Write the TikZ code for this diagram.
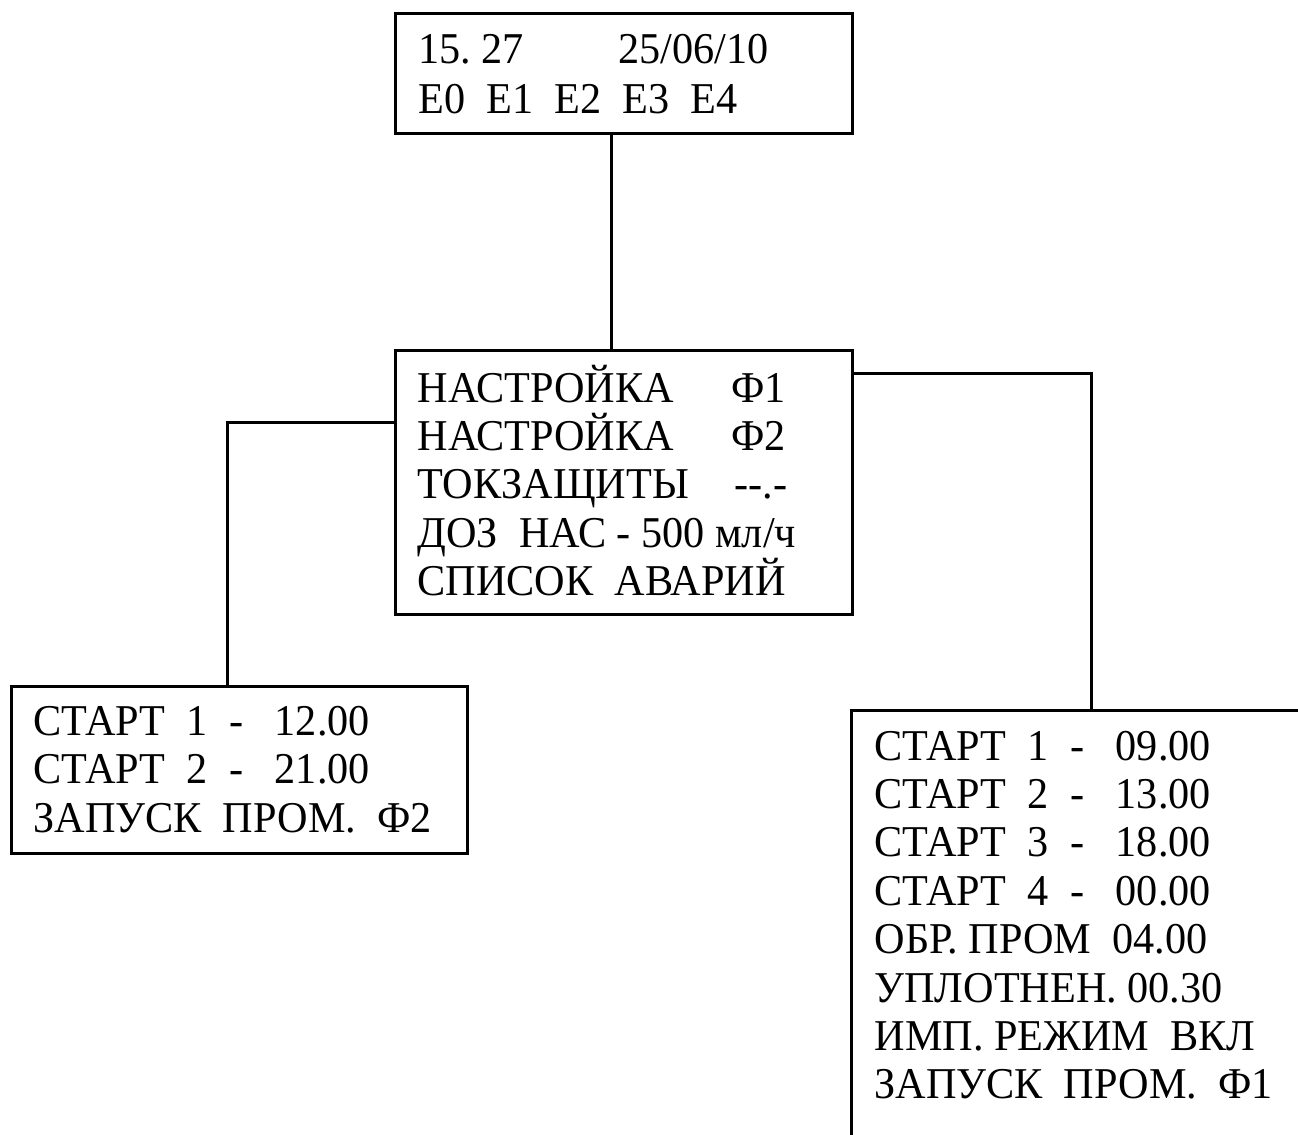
\documentclass[tikz,border=0pt]{standalone}
\usepackage{fontspec}
\setmainfont{Liberation Serif}[FakeStretch=0.96]
\begin{document}
\begin{tikzpicture}[x=0.5pt, y=-0.5pt, line width=1.5pt]
	\tikzset{box/.style={draw, anchor=north west, inner sep=0pt, outer sep=0pt},
		row/.style={anchor=base west, inner sep=0pt, font=\fontsize{22pt}{24pt}\selectfont\frenchspacing}}
	\useasboundingbox (0,0) rectangle (1298,1135);
	\coordinate (jt) at (611,0);
	\coordinate (jl) at (227,422);
	\coordinate (jr) at (1091,373);
	\node [box, minimum width=228.5pt, minimum height=60pt] (top) at (395,13) {};
	\node [box, minimum width=228.5pt, minimum height=132pt] (mid) at (395,350) {};
	\node [box, minimum width=228pt, minimum height=83.5pt] (lft) at (11,686) {};
	\begin{scope}
		\clip (0,0) rectangle (1298,1135);
		\node [box, minimum width=240pt, minimum height=225pt] (rgt) at (851,710) {};
	\end{scope}
	\draw (top.south -| jt) -- (mid.north -| jt);
	\draw (mid.west |- jl) -| (lft.north -| jl);
	\draw (mid.east |- jr) -| (rgt.north -| jr);
	% top
	\foreach \t [count=\i] in {15. 27\hspace{47pt}25/06/10, E0\ \ E1\ \ E2\ \ E3\ \ E4}
		\node [row] (t\i) at (417,{63+50*(\i-1)}) {\t};
	% middle
	\foreach \t [count=\i] in {\makebox[157pt][l]{НАСТРОЙКА}Ф1, \makebox[157pt][l]{НАСТРОЙКА}Ф2,
		\makebox[158.5pt][l]{ТОКЗАЩИТЫ}-\kern0pt-.-, ДОЗ\ \ НАС - 500 мл/ч, СПИСОК\ \ АВАРИЙ}
		\node [row] (m\i) at (416,{402+48.4*(\i-1)}) {\t};
	% left
	\foreach \t [count=\i] in {СТАРТ\ \ 1\ \ -\ \ \ 12.00, СТАРТ\ \ 2\ \ -\ \ \ 21.00, ЗАПУСК\ \ ПРОМ.\ \ Ф2}
		\node [row] (l\i) at (32,{735+48.5*(\i-1)}) {\t};
	% right
	\foreach \t [count=\i] in {СТАРТ\ \ 1\ \ -\ \ \ 09.00, СТАРТ\ \ 2\ \ -\ \ \ 13.00,
		СТАРТ\ \ 3\ \ -\ \ \ 18.00, СТАРТ\ \ 4\ \ -\ \ \ 00.00, ОБР. ПРОМ\ \ 04.00,
		УПЛОТНЕН. 00.30, ИМП. РЕЖИМ\ \ ВКЛ, ЗАПУСК\ \ ПРОМ.\ \ Ф1}
		\node [row] (r\i) at (873,{760+48.4*(\i-1)}) {\t};
\end{tikzpicture}
\end{document}
